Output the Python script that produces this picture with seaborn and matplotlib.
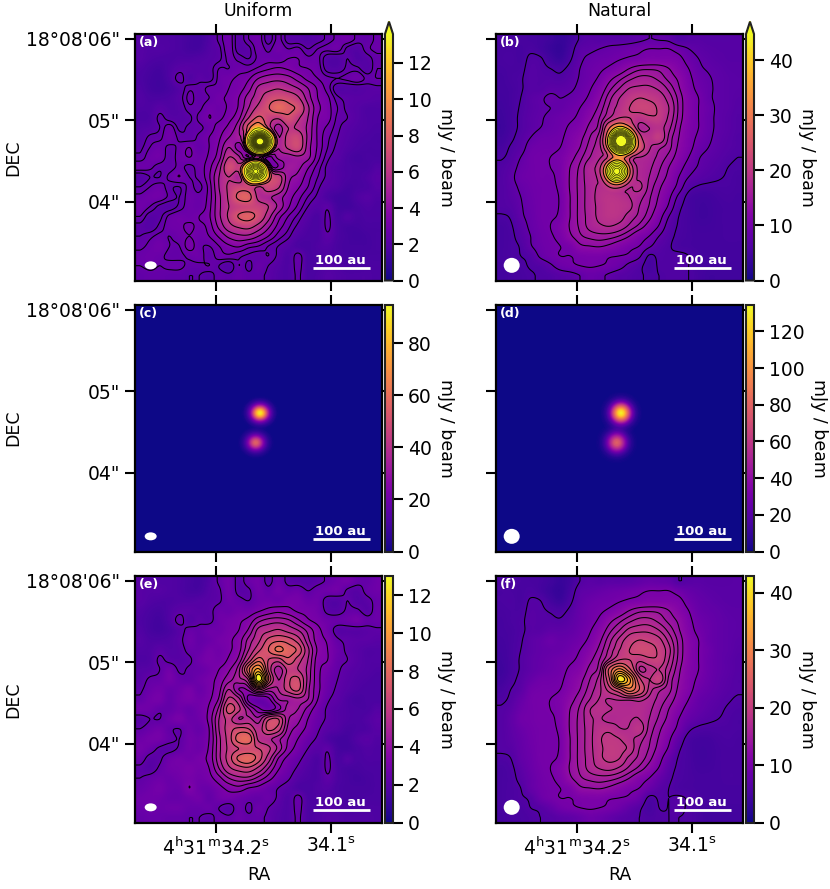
import numpy as np
import pandas as pd
import seaborn as sns
import matplotlib
matplotlib.use('Agg')
import matplotlib.pyplot as plt
from matplotlib.patches import Ellipse

# residual maps (e) and (f), mJy/beam, top row first
residual_uniform = [
    [2.0,1.9,1.8,1.8,1.7,1.5,1.4,1.8,2.4,2.8,2.1,2.6,2.8,2.1,2.7,2.1,2.0,1.9,2.1,2.4,2.7,2.9,2.5,2.4,2.7],
    [2.0,1.9,1.9,1.8,1.7,1.5,1.5,1.9,2.2,2.8,2.1,2.2,2.8,2.5,2.9,2.6,2.7,2.3,2.6,2.7,2.8,2.2,2.0,2.5,2.7],
    [2.0,1.8,1.7,1.7,1.8,1.8,1.9,2.0,2.2,2.7,2.5,2.3,2.7,2.8,2.7,3.0,3.0,2.7,2.7,2.0,1.9,2.3,1.9,2.1,2.5],
    [1.8,1.6,1.5,1.8,2.1,2.1,2.0,2.1,2.6,2.6,2.8,2.8,3.1,3.4,3.6,3.4,3.1,3.0,2.8,2.1,2.0,2.4,2.4,2.0,2.6],
    [1.7,1.5,1.4,1.8,2.5,1.9,2.2,2.1,2.7,2.9,3.1,3.4,4.2,4.6,4.7,4.5,3.9,3.3,3.0,2.7,2.6,2.7,2.9,2.5,2.6],
    [1.8,1.5,1.4,1.6,2.0,2.5,2.4,2.7,2.7,3.0,3.2,3.9,5.2,5.6,5.9,5.5,5.0,4.2,3.4,2.8,2.0,2.0,2.0,2.1,2.2],
    [1.9,1.7,1.7,1.8,2.1,2.7,2.4,2.6,2.9,3.1,3.5,4.6,5.6,6.8,7.2,7.0,6.2,4.6,3.5,3.1,2.4,2.2,2.1,2.1,2.0],
    [1.8,1.8,2.1,1.9,2.0,2.5,2.5,2.9,2.8,3.1,3.6,5.0,6.4,7.4,8.4,7.8,7.2,5.2,3.7,3.2,2.6,2.2,2.0,1.8,1.8],
    [1.7,1.8,2.4,2.1,2.0,2.2,2.7,3.0,2.9,3.3,4.0,6.0,7.8,6.6,6.2,7.2,6.2,5.0,3.5,3.2,2.5,2.3,2.0,1.8,1.8],
    [1.9,2.0,2.3,2.8,2.2,2.4,2.5,2.8,3.2,3.7,4.8,8.0,10.5,6.5,4.6,6.0,5.8,4.8,3.4,2.9,2.4,2.1,1.9,1.8,1.7],
    [2.0,2.4,2.5,2.9,2.5,2.4,2.7,3.0,3.4,4.2,4.8,6.0,13.0,7.5,5.0,6.4,6.8,4.8,3.4,2.7,2.3,2.0,1.8,1.7,1.6],
    [2.2,2.6,2.8,2.5,2.7,3.0,2.6,3.0,3.6,5.0,3.8,4.0,6.0,4.8,5.0,6.2,6.8,4.6,3.4,2.6,2.2,1.9,1.7,1.6,1.6],
    [2.4,2.8,2.9,2.4,2.8,3.0,2.8,3.1,3.9,6.0,5.2,3.0,2.5,3.0,4.4,4.5,4.8,4.4,3.2,2.4,2.1,1.7,1.5,1.6,1.6],
    [2.8,2.7,2.4,2.4,2.7,2.5,2.8,3.3,4.6,7.0,6.0,4.5,3.4,2.8,3.6,4.6,4.4,3.6,2.8,2.2,1.9,1.7,1.6,1.6,1.9],
    [2.0,2.3,2.3,2.7,3.0,2.6,2.7,3.4,5.0,6.0,5.0,5.2,4.6,6.4,6.6,4.5,4.0,3.2,2.6,2.2,1.9,1.7,1.6,1.8,2.1],
    [2.3,2.6,2.8,2.4,2.3,2.7,2.5,3.2,5.0,6.2,6.8,6.6,5.4,6.8,6.2,4.2,3.6,3.0,2.4,2.0,1.8,1.5,1.6,1.7,2.0],
    [2.7,2.9,2.9,2.5,2.3,2.8,2.7,3.2,4.8,6.2,7.8,8.0,5.6,5.2,4.6,3.8,3.2,2.6,2.2,1.7,1.4,1.4,1.8,2.0,1.8],
    [2.9,2.6,2.2,2.1,2.4,2.8,2.7,3.3,4.8,6.0,6.6,6.8,6.6,6.0,4.8,3.6,2.9,2.3,2.0,2.2,1.5,1.4,1.6,1.8,1.7],
    [2.6,2.1,2.2,2.7,2.9,2.8,3.0,3.4,4.8,6.2,7.6,8.0,7.0,5.4,3.8,3.0,2.5,2.0,1.7,2.4,1.6,1.9,1.6,1.7,1.7],
    [2.2,2.0,2.4,2.8,2.9,3.1,2.9,3.2,4.4,5.6,6.2,6.4,5.6,4.4,3.3,2.7,2.2,1.8,1.7,2.4,1.7,1.5,1.5,1.6,1.6],
    [2.3,2.5,2.7,2.6,2.8,3.0,2.8,3.0,3.6,4.4,4.8,4.8,4.2,3.5,2.8,2.4,1.9,1.7,1.7,2.2,1.7,1.5,1.4,1.5,1.6],
    [2.5,2.7,2.9,2.6,2.6,3.2,2.7,2.6,3.0,3.4,3.6,3.2,3.0,2.6,2.3,2.0,1.7,1.6,1.8,1.9,1.6,1.5,1.5,1.5,1.6],
    [2.7,2.8,2.7,2.5,2.5,2.7,2.8,2.4,2.8,2.9,2.7,2.5,2.4,2.6,2.2,1.8,2.5,1.7,1.7,1.8,1.7,1.5,1.5,1.6,1.6],
    [2.6,2.7,2.6,2.7,2.7,2.5,2.5,2.6,2.3,2.0,2.6,2.2,2.6,2.3,2.0,1.8,2.5,1.7,1.7,1.9,1.8,1.6,1.6,1.7,1.7],
    [2.4,2.5,2.5,2.4,2.4,2.3,2.3,2.1,2.5,2.4,2.6,2.4,2.4,2.2,1.9,1.8,2.4,1.7,1.8,2.0,1.9,1.8,1.8,1.8,1.7],
]
residual_natural = [
    [5.5,5.4,5.2,5.0,4.8,4.2,3.5,4.2,6.0,6.8,6.5,6.8,6.8,7.0,7.5,8.0,7.8,7.5,6.0,6.5,6.8,6.6,6.6,6.6,6.8],
    [5.2,5.2,5.0,5.4,4.8,3.8,3.2,4.8,7.0,7.5,8.0,8.5,8.8,9.2,9.6,10,10,10,9.0,8.0,7.4,7.0,6.8,6.8,6.8],
    [5.2,5.4,5.0,6.2,6.0,4.6,3.8,5.5,7.5,8.5,9.0,9.3,9.8,10.3,10.6,11,11,11,10.6,9.0,8.0,7.4,7.0,6.8,6.8],
    [5.0,5.2,5.3,6.5,6.3,5.8,5.4,6.4,8.0,9.0,9.6,10.4,11.5,13.0,14,14.2,14,13,11.5,10,8.4,7.8,7.4,7.0,6.9],
    [4.8,5.2,5.6,6.6,6.4,6.4,6.2,7.0,8.2,9.2,10.4,12.4,14,15.5,16.5,16.5,15.5,14,12.6,10.6,9.0,8.2,7.6,7.2,7.0],
    [4.8,5.0,5.6,6.5,6.6,7.2,7.2,7.6,8.6,9.8,11.5,14,16,18,18.5,18.5,17.5,15.5,13.2,11,9.4,8.4,7.6,7.2,7.0],
    [4.6,5.0,5.8,7.0,7.6,8.5,8.0,8.4,9.2,10.5,12.6,15.5,18,20,21,20.5,19.5,17,14,11.5,10,8.4,7.6,7.2,6.8],
    [4.4,5.0,6.0,7.0,7.6,8.0,8.2,9.0,10,11.5,13.6,16.5,19,21,22,22,20.5,18,14.2,11.6,10,8.8,7.6,7.2,6.6],
    [4.2,5.0,6.2,7.2,7.8,8.4,9.0,9.6,10.6,12.5,14.6,18,21,21,19.5,20.5,20.5,17.5,14,11.5,10,8.6,7.6,7.0,6.4],
    [4.0,5.0,6.2,7.2,8.0,8.6,9.2,10.4,11.4,13.6,15.6,25,31,25,17.5,18,19,16.5,13.4,11.2,10,8.6,7.6,7.0,6.4],
    [4.4,5.4,6.6,8.0,9.0,9.2,9.6,11,12.4,14.5,17,24,41,34,22,19,20.5,15.6,13,11,9.6,8.4,7.4,6.8,6.2],
    [5.0,6.0,7.0,9.0,9.5,9.6,10,11.4,13,15.2,17.2,20,24,29,24,18.5,16.5,15,12.6,10.8,9.0,8.0,7.2,6.6,6.2],
    [5.6,6.4,8.0,9.4,9.8,10,10.6,12.2,14,16,17.6,17.4,17.8,18,18,17,15.5,14,12,10,8.2,7.4,6.8,6.2,5.8],
    [6.2,7.0,8.6,9.4,9.8,10,10.6,13,14.8,17.4,18,17.6,17.2,17.2,17.4,16.4,14.8,13,11,9.0,7.8,7.0,6.4,5.8,5.5],
    [6.3,7.4,9.0,9.4,9.8,9.8,10.6,13.2,15,17.2,17.6,17,17.2,17.4,17.5,16,14.2,12.4,10,8.0,7.0,6.4,6.0,5.6,5.2],
    [6.3,7.2,8.4,9.2,9.6,9.8,10.4,13.2,15,17,18.4,18.6,17.6,17.6,18.6,15.5,13.4,11.5,9.2,6.5,5.6,5.4,5.4,5.4,5.2],
    [6.3,7.0,8.0,9.0,9.6,9.8,10.2,13,15,17,18.8,19.4,19,18,16.8,14.8,12.8,10.5,7.5,5.2,4.6,4.6,5.0,5.2,5.0],
    [6.3,6.6,7.8,8.8,9.6,9.8,10.2,13,15,17,18.6,19.6,19.4,18.6,16,14.4,12.2,9.6,6.4,5.0,4.4,4.4,4.8,5.0,5.0],
    [5.6,6.0,7.6,8.6,9.6,9.8,10.4,13,15,16.8,18.6,19.4,19,17,15.5,13.6,11,8.0,5.8,5.0,4.4,4.4,4.8,5.0,5.0],
    [5.0,5.6,7.0,8.4,9.4,10,11,13.2,14.8,16.6,17.6,18,17.2,15.6,14,12,9.8,7.0,5.6,5.0,4.6,4.6,4.8,5.0,5.0],
    [5.0,5.4,6.6,8.0,9.2,9.8,10.6,12.6,14.2,15,15.4,15.2,14.4,13,11.2,10,8.0,6.4,5.4,5.0,4.8,4.8,4.8,5.0,5.0],
    [5.0,5.4,6.0,7.8,9.0,9.6,10,10.6,12.6,13,13.2,12.6,11.6,10.6,10,8.4,6.8,6.0,5.2,5.0,4.8,4.8,4.8,4.8,4.8],
    [5.0,5.4,5.8,6.4,8.4,9.4,10,10,10.4,10.6,10.6,10.2,10,9.6,8.4,5.6,6.2,6.0,6.2,5.8,5.0,4.8,4.8,4.8,4.8],
    [4.8,5.2,5.4,6.0,6.4,7.6,9.0,9.6,10,10.2,10,9.6,8.8,7.4,6.4,5.0,6.0,6.0,6.2,5.8,5.0,4.6,4.6,4.6,4.6],
    [4.6,5.0,5.2,5.6,6.0,6.2,6.8,7.2,8.0,8.8,8.4,7.6,6.8,6.4,6.0,5.6,5.8,6.0,6.0,5.8,5.0,4.4,4.4,4.4,4.4],
]

# two compact sources: peak values, and the beam cross-cut seen in (c) and (d)
source_x = [0.506, 0.489]
source_y = [0.437, 0.557]
peaks_uniform = [92, 56]
peaks_natural = [134, 80]
beam_r_uniform = [0, 2, 4, 6, 8, 10, 12, 14, 17, 20]
beam_uniform = [1.0, 0.95, 0.8, 0.6, 0.4, 0.24, 0.13, 0.06, 0.01, 0.0]
beam_r_natural = [0, 3, 6, 8, 10, 12, 15, 18, 22]
beam_natural = [1.0, 0.9, 0.66, 0.5, 0.33, 0.19, 0.07, 0.02, 0.0]

levels_a = [2.3, 2.6, 3.0, 3.5, 4.2, 5, 6, 7.5, 9, 14, 20, 26, 32, 38, 44, 50, 56, 62, 68, 74, 80, 86]
levels_b = [5.8, 8, 10, 13, 14.5, 16, 18, 21, 28, 38, 48, 58, 68, 78, 88, 98, 108, 118, 128]
levels_e = [2.3, 3.2, 3.8, 4.4, 5, 5.8, 6.6, 7.4, 8.2, 9.2, 10.2, 11.2, 12.2]
levels_f = [6, 10, 13, 14.5, 16, 17.5, 19, 21, 24, 27, 30, 33, 36, 39, 42]

panel_names = ['(a)', '(b)', '(c)', '(d)', '(e)', '(f)']
panel_vmax = [13.6, 44.8, 94.8, 134.4, 13.03, 42.9]
panel_ticks = [range(0, 13, 2), range(0, 41, 10), range(0, 81, 20),
               range(0, 121, 20), range(0, 13, 2), range(0, 41, 10)]
ra_ticks = [0.328, 0.794]
ra_labels = ['4$^{\\mathrm{h}}$31$^{\\mathrm{m}}$34.2$^{\\mathrm{s}}$', '34.1$^{\\mathrm{s}}$']
dec_ticks = [0.02, 0.35, 0.68]
dec_labels = ['18°08\'06"', '05"', '04"']

N = 247
PX = 247.0


def upsample_axis(a, n):
    # catmull-rom along axis 0
    m = a.shape[0]
    pos = (np.arange(n) + 0.5) / n * m - 0.5
    pos = np.clip(pos, 0, m - 1)
    i = np.minimum(pos.astype(int), m - 2)
    t = (pos - i).reshape((-1,) + (1,) * (a.ndim - 1))
    p0 = a[np.maximum(i - 1, 0)]
    p1 = a[i]
    p2 = a[i + 1]
    p3 = a[np.minimum(i + 2, m - 1)]
    return 0.5 * (2 * p1 + (p2 - p0) * t + (2 * p0 - 5 * p1 + 4 * p2 - p3) * t ** 2
                  + (3 * p1 - p0 - 3 * p2 + p3) * t ** 3)


def fine_map(grid):
    a = upsample_axis(np.array(grid, dtype=float), N)
    return np.clip(upsample_axis(a.T, N).T, 0, None)


def source_map(peaks, beam_r, beam, squash):
    yy, xx = np.mgrid[0:N, 0:N] + 0.5
    out = np.zeros((N, N))
    for x0, y0, p in zip(source_x, source_y, peaks):
        r = np.hypot((xx / N - x0) * PX, (yy / N - y0) * PX * squash)
        out += p * np.interp(r, beam_r, beam)
    return out


def draw_panel(fig, idx, data, levels, left, bottom, beam_w, beam_h):
    W, H = 830.0, 889.0
    ax = fig.add_axes([left / W, 1 - bottom / H, 247 / W, 246.5 / H])
    # matplotlib fits the extend arrow inside the colorbar axes, so make room for it
    cax_h = 246.5 * 1.05 if idx < 2 else 246.5
    cax = fig.add_axes([(left + 250) / W, 1 - bottom / H, 8 / W, cax_h / H])
    kws = {'ticks': list(panel_ticks[idx])}
    if idx < 2:
        kws.update(extend='max', extendfrac=0.05)
    sns.heatmap(pd.DataFrame(data), ax=ax, cbar_ax=cax, cmap='plasma', vmin=0,
                vmax=panel_vmax[idx], xticklabels=False, yticklabels=False,
                cbar_kws=kws, rasterized=True)
    if levels is not None:
        c = np.arange(N) + 0.5
        widths = [0.75 if lv < panel_vmax[idx] else 0.4 for lv in levels]
        ax.contour(c, c, data, levels=levels, colors='k', linewidths=widths)

    ax.set_xticks([f * N for f in ra_ticks])
    ax.set_yticks([f * N for f in dec_ticks])
    ax.set_xticklabels(ra_labels if idx >= 4 else [], fontsize=13.5)
    ax.set_yticklabels(dec_labels if idx % 2 == 0 else [], fontsize=13.5, rotation=0)
    ax.tick_params(which='both', direction='out', length=7, width=1.5, top=True,
                   right=True, bottom=True, left=True, color='k')
    for s in ax.spines.values():
        s.set_visible(True)
        s.set_linewidth(1.6)
        s.set_color('k')

    if idx >= 4:
        ax.set_xlabel('RA', fontsize=12.5, labelpad=5)
    if idx % 2 == 0:
        ax.set_ylabel('DEC', fontsize=12.5, labelpad=3)

    ax.text(0.014, 0.966, panel_names[idx], transform=ax.transAxes, color='w',
            fontweight='bold', fontsize=9, va='center')
    ax.text(0.83, 0.08, '100 au', transform=ax.transAxes, color='w',
            fontweight='bold', fontsize=9.5, ha='center', va='center')
    ax.plot([0.72, 0.95], [0.05, 0.05], transform=ax.transAxes, color='w', lw=2,
            solid_capstyle='butt')
    ax.add_patch(Ellipse((0.0635, 0.0615), beam_w / 247, beam_h / 246.5,
                         transform=ax.transAxes, color='w', lw=0))

    cb = ax.collections[0].colorbar
    cb.outline.set_visible(True)
    cb.outline.set_linewidth(1.5)
    cb.outline.set_edgecolor('#222222')
    cax.tick_params(direction='out', length=7, width=1.5, labelsize=13.5, right=True, color='k')
    cax.set_ylabel('mJy / beam', fontsize=12.5, rotation=270, labelpad=17)
    return ax


sns.set_style('ticks')
plt.rcParams['font.family'] = ['DejaVu Sans']
plt.rcParams['mathtext.default'] = 'regular'
plt.rcParams['text.color'] = 'k'
plt.rcParams['axes.labelcolor'] = 'k'
plt.rcParams['xtick.color'] = 'k'
plt.rcParams['ytick.color'] = 'k'

e_map = fine_map(residual_uniform)
f_map = fine_map(residual_natural)
c_map = source_map(peaks_uniform, beam_r_uniform, beam_uniform, 1.1)
d_map = source_map(peaks_natural, beam_r_natural, beam_natural, 1.0)

fig = plt.figure(figsize=(8.3, 8.89), dpi=100)
lefts = [135, 496]
bottoms = [280.5, 551.5, 822.5]
draw_panel(fig, 0, e_map + c_map, levels_a, lefts[0], bottoms[0], 12, 8)
draw_panel(fig, 1, f_map + d_map, levels_b, lefts[1], bottoms[0], 16, 15)
draw_panel(fig, 2, c_map, None, lefts[0], bottoms[1], 12, 8)
draw_panel(fig, 3, d_map, None, lefts[1], bottoms[1], 16, 15)
draw_panel(fig, 4, e_map, levels_e, lefts[0], bottoms[2], 12, 8)
draw_panel(fig, 5, f_map, levels_f, lefts[1], bottoms[2], 16, 15)

fig.text(258.5 / 830, 1 - 11 / 889, 'Uniform', ha='center', va='center', fontsize=12.5)
fig.text(619.5 / 830, 1 - 11 / 889, 'Natural', ha='center', va='center', fontsize=12.5)

fig.savefig('out.png', dpi=100)
